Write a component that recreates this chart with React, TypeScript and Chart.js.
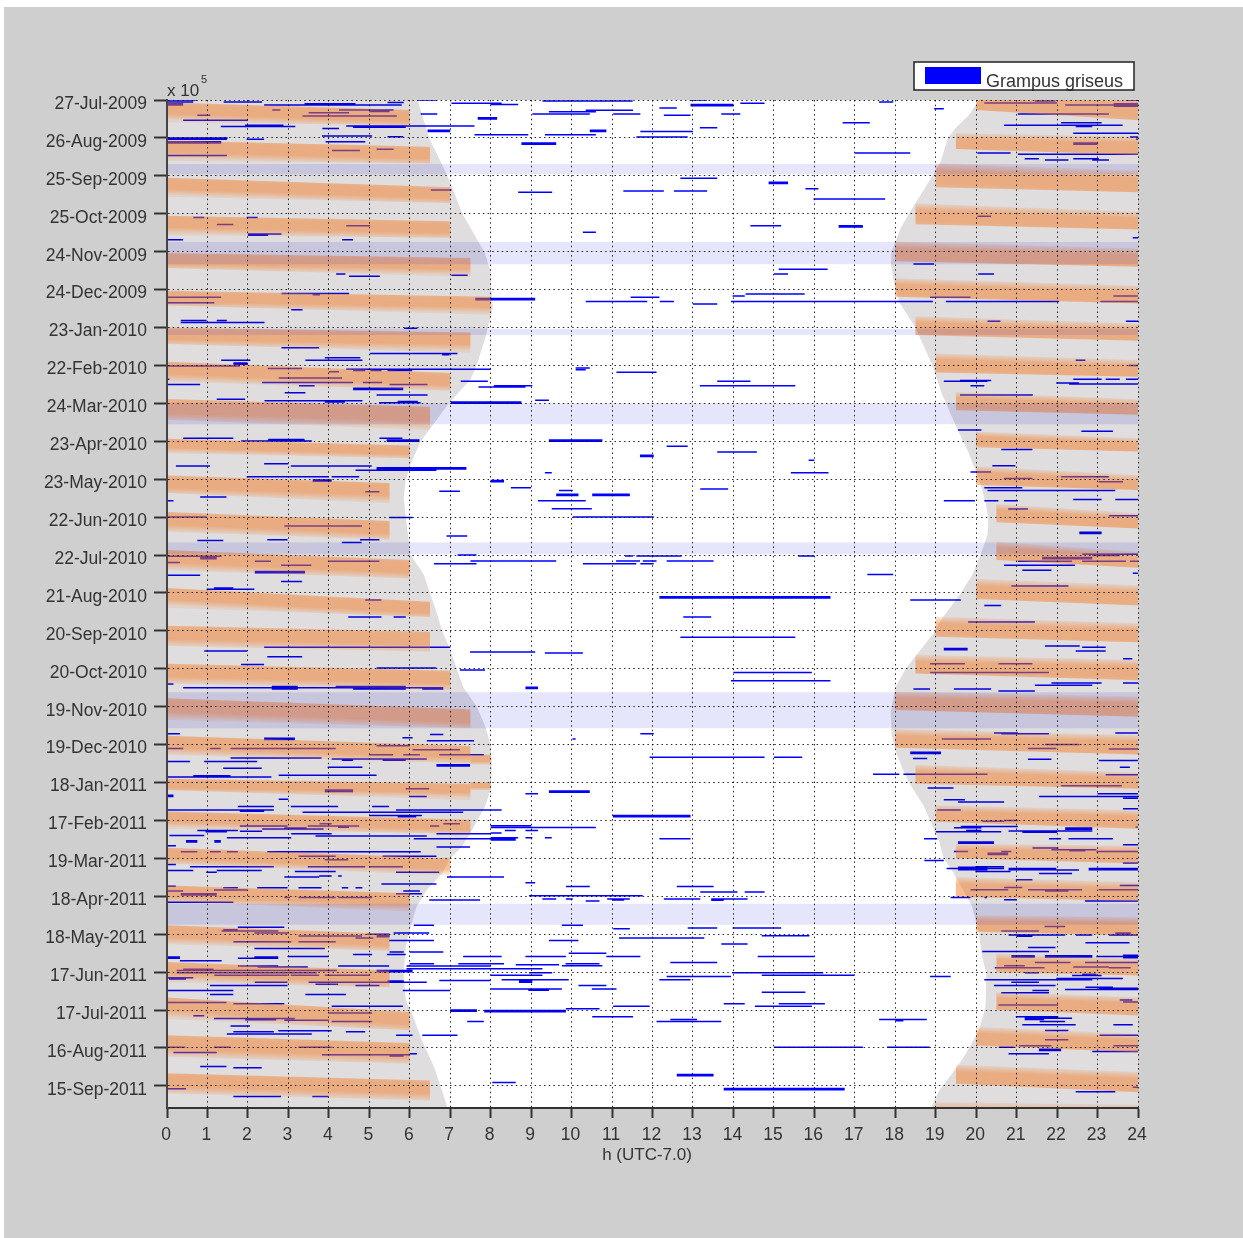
import React, { useEffect, useRef } from "react";
import { Chart, registerables } from "chart.js";

Chart.register(...registerables);

const tickDates = ["27-Jul-2009","26-Aug-2009","25-Sep-2009","25-Oct-2009","24-Nov-2009","24-Dec-2009","23-Jan-2010","22-Feb-2010","24-Mar-2010","23-Apr-2010","23-May-2010","22-Jun-2010","22-Jul-2010","21-Aug-2010","20-Sep-2010","20-Oct-2010","19-Nov-2010","19-Dec-2010","18-Jan-2011","17-Feb-2011","19-Mar-2011","18-Apr-2011","18-May-2011","17-Jun-2011","17-Jul-2011","16-Aug-2011","15-Sep-2011"];

// [day since 27-Jul-2009, dawn hour]
const dawnEdge = [[0,6.19],[30,6.48],[60,6.93],[90,7.3],[120,7.84],[135,8.0],[150,8.02],[165,8.05],[190,7.85],[210,7.65],[221,7.5],[240,6.97],[260,6.5],[270,6.27],[285,6.06],[300,5.9],[315,5.85],[330,5.9],[345,5.96],[360,6.02],[375,6.34],[390,6.5],[405,6.66],[420,6.8],[435,7],[450,7.16],[465,7.33],[480,7.66],[495,7.86],[510,8.0],[525,8.03],[546,8.0],[559,7.86],[580,7.5],[591,7.28],[600,7.0],[612,6.8],[625,6.42],[638,6.17],[660,5.97],[670,5.9],[691,5.85],[712,5.9],[723,6.06],[744,6.3],[765,6.6],[784,6.8],[797.5,6.93]];
const duskEdge = [[0,20.07],[12,19.82],[22,19.5],[30,19.3],[49,19.12],[60,18.92],[75,18.63],[90,18.34],[101,18.14],[120,17.91],[130,17.89],[144,17.97],[160,18.1],[180,18.5],[210,18.92],[233,19.16],[260,19.53],[278,19.8],[300,20.07],[318,20.23],[331,20.3],[344,20.28],[360,20.11],[376,19.9],[392,19.58],[410,19.16],[423,18.92],[436,18.6],[450,18.26],[465,18.0],[484,17.89],[502,17.91],[515,18.01],[529,18.18],[540,18.34],[559,18.71],[586,19.08],[600,19.2],[612,19.45],[638,19.9],[660,20.07],[678,20.15],[691,20.25],[718,20.23],[736,20.07],[757,19.7],[770,19.41],[784,19.08],[797.5,18.88]];

// Unsurveyed periods: [first day, last day]
const gapPeriods = [[50.6,58.8],[112.4,130],[181,186],[240,256.5],[350,359.4],[468.6,497],[636,652.5]];

// Moonlit bands, before dawn: [end hour, top at 0h, bottom at 0h, top at end, bottom at end]
const morningBands = [
[6,2,17.6,8,20],[6.5,32,48,37,50],[7,61.5,76.5,69,81.5],[7,91.5,107,96,109],[7.5,121,133,125,140],[8,151,162.6,155.6,170],[7.5,180,193,184,200],[7,207,222.8,216,230],[6.5,236.5,253,242.6,261],
[6,268,279.5,273.4,283.5],[5.5,297,311,303,319],[5.5,326,341.5,333,348],[6,356,372,364,378.5],[6.5,386,401.7,397,409],[6.5,416,432,420.7,436.5],[7,446,461.6,451.5,467],[7.5,473.4,490.6,482,497],[7.5,503,518,511,525],
[7.5,537,546,541,554],[7.5,563,576.5,569.4,580.5],[7,591.6,604,600,613.5],[6,621.4,634,627.5,642],[5.5,653,668,659.6,673],[5.5,682,698,688.7,702],[6,710,727,721.6,736],[6,740,757,746,762.5],[6.5,770,786,775.7,791.6]];
// Short ends of two bands: [start hour, end hour, top, bottom]
const morningTips = [[7.5,8,518,526],[7.5,8,540,546]];
// Moonlit bands, after dusk: [start hour, top at start, bottom at start, top at 24h, bottom at 24h]
const eveningBands = [
[20,-8,8,-3,16],[19.5,26.4,38.8,29,43.5],[19,50,69,56,73],[18.5,81.8,98.4,88.4,102.4],[18,112,127.5,117.4,132],[18,141,155.7,147,161],[18.5,171,186,176.8,190.5],[19,200.5,215.6,205.8,219],[19.5,231,245.4,236.7,249],
[20,262.4,274.8,267.6,278],[20,290,304.6,296.7,308.5],[20.5,319.6,334,327,339],[20.5,349.4,364,357.4,370],[20,379,394.8,384,400],[19,408.8,424.6,414,429],[18.5,439,453.7,443,459],[18,468,482.7,472,488],[18,497.7,512.5,502.5,517.8],
[18.5,526,541,532,545],[19,558,571,562,576.5],[19.5,588.4,600,590,604],[19.5,614.8,630.6,618.8,633.8],[20,645,658,646.5,661],[20.5,675.5,690,679.4,692.6],[20.5,705.8,719.8,709.8,724.3],[20,733.5,748,738.8,753.3],[19.5,763.3,778.4,769,785],[19,793,815,795,815]];

// Detections: [day, start hour, end hour]
const detectionsA = [
[0,0,.74],[1.6,1.4,2.35],[1.6,0,.65],[3,0,.4],[4,0,.4],[4,2.4,3],[4,3,5.8],[3,3.4,4.66],[2,5.45,5.85],[8,2.6,2.8],[8,4.25,5.6],[9,5,5.5],[10,3.5,4.5],[12,.75,1.07],[12.6,3.35,5.68],[16,.4,2],[21,1.33,3.17],[20,1.93,2.88],[20.5,4.43,7.6],[21.5,4.6,5.9],[22.6,3.84,4.25],[24,6.44,7],[25,6.44,7],[11,6.27,6.68],[0,6.19,6.68],[2.6,7.03,8],[14,7.68,8.16],[15,7.68,8.16],[28.5,3.83,5.07],[29,5.45,5.84],[27.4,7.6,8.93],[30,0,1.5],[31,1.97,2.4],[31,0,1.48],[33,3.92,4.9],[33,0,1.34],[34,0,1.34],[40,4.08,4.77],[39,5.18,5.6],[44,0,1.48],[71.3,6.52,7.03],[93,.65,.92],[93,1.97,2.24],[98.5,1.23,1.64],[99.5,4.43,5.02],[106,2,2.83],[107,2,2.5],[110.5,0,.4],[110.5,4.33,4.6],[137.6,4.18,4.41],[139.5,4.5,5.26],[138.7,7.03,7.43],[153,2.83,4.5],[154,3.6,3.78],[156,0,1.34],[160.5,0,1.17],[157,7.62,9.1],[158,7.62,9.1],[166,3.07,3.35],[174.5,.34,.98],[174.5,1.23,1.48],[176,.34,2.41],[180.5,5.86,6.19],[196,2.83,3.76],[200.5,5.02,7.18],[201.5,6.8,6.98],[204,3.9,4.78],[206,3.42,4.83],[206,1.34,2.06],[208,1.64,1.99],[209,1.64,1.99],[210.5,0,1.8],[212.5,2.49,3.34],[213,4.43,8],[214,4.6,4.9],[214,5.03,5.3],[214,5.45,6.06],[215,4,4.25],[220,2.76,4.33],[221,0,.06],[222.6,7.26,7.93],[223.5,4.84,5.32],[223.5,2.35,4.6],[225,0,.82],[225,5.5,6.44],[226,3.26,3.65],[227,7.7,8.86],[228,4.6,5.84],[229,4.6,5.84],[231.6,2.91,3.42],[233.4,5.18,6.44],[236.8,1.23,1.93],[238,2.41,4.83],[239,3.9,4.4],[239.5,5.24,6.27],[238.5,5.7,6.2],[239,7.02,8.76],[240,7.02,8.76]];
const detectionsB = [
[.8,9.28,11.51],[0,12.94,13.35],[3.5,8,8.68],[2.6,8,8.27],[2.6,14.17,14.77],[3.5,12.94,14],[4.5,12.94,14],[6.3,12.17,12.6],[8.2,10.35,11.52],[9.2,10.35,10.6],[9.2,9.44,10.35],[11,9.03,10.45],[11,11.03,11.7],[12,12.28,12.94],[11,13.7,14.17],[22,13.17,13.6],[24,10.45,10.86],[25,10.45,10.86],[25,11.7,13],[27.4,9.34,10.6],[29.3,11.6,12.87],[34,8.76,9.62],[35,8.76,9.62],[62,12.69,13.6],[65,14.87,15.35],[66,14.87,15.35],[70.3,15.78,16.1],[73,8.68,9.52],[72,11.28,12.28],[72,12.53,13.35],[78.4,15.98,17.75],[99.5,14.42,15.18],[104.7,10.28,10.6],[134,15.12,16.33],[137.6,15,15.35],[155,13.98,14.28],[156,11.46,12.17],[153.4,14.3,15.76],[159.5,10.35,11.87],[159.5,12.18,12.53],[159.5,13.94,18.93],[159.5,19.25,22.05],[161.4,13,13.6],[212,10.1,10.45],[213.5,10.1,10.35],[215.3,11.11,12.1],[222.6,13.6,14.42],[226,13.17,15.53],[226,8.08,9.03],[237.6,9.1,9.44],[1.6,17.6,17.95],[7,18.96,19.2],[18,16.7,17.37],[42,17,18.37],[42,20.03,20.85],[2.4,20.2,22],[.8,21.45,21.96],[0,23.7,24],[4,22.2,24],[3,23.4,24],[5,23.4,24],[11,21.03,23.28],[18,22.1,23.1],[20,20.69,23.62],[21,22.46,22.87],[26.3,22.4,24],[29.3,23.8,24],[31,23.95,24],[34,22.4,23],[35,22.4,23],[43,21.03,24],[46.4,21.2,21.55],[46.4,22.4,23.03],[47.4,21.7,22.28],[47.4,22.87,23.28],[92,20.03,20.37],[99.5,16.6,17.2],[100.5,16.6,17.2],[109,23.87,24],[129.7,18.45,18.96],[137.6,20.05,20.44],[155,23.39,24],[156,18.86,19.86],[159.5,23.07,24],[175,20.28,20.6],[175,23.7,24],[206,22.46,22.7],[210,23.77,24],[221,22.4,23.1],[221,23.2,23.55],[221,23.7,24],[222,19.6,20.37],[222.6,19.2,20.28],[226,19.86,20.2],[224,21.98,22.54],[224.6,22.3,24],[233.4,19.6,21.4],[261,19.55,20.13],[262,22.6,23.38]];
const detectionsC = [
[267.6,.4,1.64],[269.7,1.83,3.58],[268.7,2.5,3.4],[267.6,5.25,5.82],[269,5.43,6.24],[270,5.43,6.24],[289.5,.22,1.06],[287.7,2.4,3],[289.5,3.06,5.06],[293,4.66,6.66],[291,5.18,7.4],[292,5.18,7.4],[298,1.97,3.99],[298,4.07,4.75],[300.6,3.6,4.07],[301.6,3.6,4.07],[310,4.9,5.25],[314,.82,1.47],[317,0,.16],[309.6,6.73,7.24],[330.4,5.49,6.07],[330,0,.98],[337,2.9,4.82],[345,6.91,7.42],[348.6,.75,1.39],[348,2.48,2.98],[350,4.32,4.81],[348,4.77,5.25],[361,0,1.35],[362,.82,1.23],[363,.82,1.23],[366,0,.32],[365,2.17,2.57],[365,4,5.25],[368,2.82,3.57],[360,7.18,7.65],[364.7,7.5,9.62],[367,6.6,7.65],[373,2.17,3.41],[374,2.17,3.41],[376,0,.82],[381,2.82,3.34],[387,.98,2.16],[386,1.16,1.64],[395.5,4.9,5.3],[409,4.48,5.3],[409,5.6,5.9],[433,2.4,7],[436,.92,1.98],[436.7,7.49,9.1],[440.4,2.48,3.34],[446.7,1.83,2.4],[449.3,5.18,6.66],[451,7.24,7.86],[462,0,.16],[465,.4,6.83],[466,2.59,3.23],[464,4.17,5.9],[466,4.6,5.9],[464,2.59,3.23],[466,6.31,6.83],[501.5,0,.32],[502,6.5,6.83],[504.5,5.82,6.07],[505,2.4,3.16],[506,2.4,3.16],[507,6.42,7.59],[510.8,5.18,6],[513,2.4,4.17],[513,0,.4],[513,1.06,1.33],[513,1.57,2.64],[514,6.07,7.24],[518,5,5.59],[518,5.84,6.25],[518,6.73,7.83],[520.5,1.57,3.82],[521.3,4.07,6.42],[522.3,4.32,4.6],[522.3,5.33,5.9],[523.4,0,.57],[523.4,.92,2.23],[526,6.66,7.49],[527,6.66,7.49],[528.7,1.39,2.34],[528,3.97,4.83],
[269,9.44,10.76],[270,9.44,10.76],[274,12.35,12.87],[278.4,13.6,14.58],[281,11.69,12.03],[282,11.69,12.03],[285,15.86,16],[295,9.34,9.51],[295,15.42,16.35],[301,8,8.33],[302,8,8.33],[306.7,8.5,9],[309,9.69,10.03],[312,9.62,10.17],[313,9.62,10.17],[312,10.51,11.44],[313,10.51,11.44],[307.7,13.18,13.87],[317,9.17,10.35],[323.3,9.51,10.5],[330,10.03,12.03],[360.7,11.32,11.52],[360.7,11.6,12.72],[360.7,15.6,16],[364.7,11.1,11.69],[364.7,11.76,12.1],[364.7,12.35,13.51],[367,10.28,11.6],[367,11.7,12.03],[393,12.17,16.4],[394,12.17,16.4],[409,12.76,13.45],[425,12.69,15.53],[437.5,9.34,10.28],[453,14,15.94],[459.4,13.94,16.4],[464.6,8.86,9.17],[465.6,8.86,9.17],[501.5,11.7,12.03],[505.5,10.02,10.1],[520,11.93,14.77],[520,15,15.7]];
const detectionsD = [
[276.6,20.62,21.39],[289.3,20.4,20.97],[294.3,19.86,20.37],[298,22.1,23.28],[299.5,20.69,21.39],[302,23.03,23.63],[306.7,20.2,21.14],[309,20.28,23.44],[316,22.4,23.1],[316,23.44,24],[317,19.2,19.97],[317,20.2,20.55],[317,20.69,21.03],[323.5,20.79,21.28],[329,23.28,24],[342,22.55,23.1],[343,22.55,23.1],[359.4,22.62,24],[360.4,22.87,23.55],[362,21.63,22.87],[363,21.63,22.87],[365,21.03,22.37],[365,22.62,23.7],[365,23.8,24],[368,20.69,22.44],[372,21.14,21.86],[374.5,23.87,24],[375.5,17.31,17.95],[384.5,20.87,22.28],[395.5,18.37,19.62],[400,20.2,20.62],[413,19.8,21.45],[432,21.7,22.56],[433,22.62,23.2],[434,19.2,19.79],[435,19.2,19.79],[436,22.46,23.2],[442,23.63,23.86],[446,18.86,19.72],[446,20.55,21.39],[453,18.86,21.8],[461.2,21.86,23.1],[461.2,23.63,24],[463,21.45,22.87],[466,18.45,18.86],[466,19.45,20.37],[467.5,20.55,21.45],[500.8,20.44,21.03],[500.8,23.44,24],[501.5,20.62,21.8],[505.5,19.15,20.37],[510,21.7,22.55],[513,21.28,21.98],[513.4,23.28,24],[516,18.37,19.13],[517,18.37,19.13],[521,18.44,18.79],[521.6,21.28,21.86],[522.6,23.03,24],[528,23.55,23.8]];
const detectionsE = [
[535.6,0,2.58],[534.6,.65,1.57],[534.3,2.76,5.18],[545,5.9,6.48],[546,3.9,4.6],[547,3.9,4.6],[550,0,.16],[551,0,.16],[551,6,6.42],[553.3,2.76,3],[559,1.75,2.64],[559,3.06,4.23],[559,5.07,5.49],[561.8,0,2.64],[561.8,5.66,8.27],[562.8,1.8,2.4],[563.6,3.35,7.32],[566,5,6.3],[567,5.7,6.16],[572.6,6.83,7.24],[572.6,3.77,4.07],[574.4,1.8,2.98],[574.4,3.48,4.75],[575.4,4.23,4.5],[574.4,6.5,6.73],[576,2.9,3.45],[576.8,2.35,3.87],[578,.75,1.75],[579,.95,1.48],[578.6,1.8,2.35],[580.5,3.07,4.07],[580.5,6.66,8],[582.3,3.67,6.42],[582,.06,.92],[583.7,1.48,3.07],[584.5,6.1,8],[586,.47,.75],[587,.47,.75],[586,1.17,1.33],[587,1.17,1.33],[590,0,.22],[591,6.66,7.49],[594.7,.34,.75],[594.7,1.06,1.33],[594.7,1.48,1.75],[594.7,2.48,6.27],[598.4,3.25,4.17],[598.4,5.33,6.66],[601,3.9,4.48],[604.8,0,.22],[606.6,.57,2.64],[606.6,3.48,4.9],[606.6,5,5.83],[609.5,0,.65],[609.5,1.23,2.34],[610.3,3.16,4.17],[611,.97,1.23],[611,5.66,6.73],[614,3.76,4.07],[614,4.23,4.32],[614.8,2.9,3.76],[614.8,6.92,8.33],[620.3,5.3,6.66],[622,0,.22],[623.2,1.39,1.75],[623.2,2.23,2.98],[623.2,3.25,3.82],[623.2,4.32,4.48],[623.2,4.66,4.83],[625,1.16,1.98],[625.9,0,.4],[625.9,5.84,6.25],[628,.34,1.23],[629,.34,1.23],[628,5.66,6.3],[631,2.9,3.04],[631,3.25,4.17],[631,4.23,5.07],[633,6.48,7.74],[634.8,0,1.64],[653,6.1,6.6],[654.4,1.75,2.9],[657.5,1.35,2.75],[656.5,1.39,1.75],[659,2.16,3],[659,5.6,6.48],[661.5,3.25,4.82],[661,5.18,5.5],[662,5.18,5.5],[660,4.95,5.5],[663,4.66,5.1],[665,5.49,6.6],[666,1.64,3.07],[666,3.25,4.17],[671.3,2.16,3.9],[674,6,6.83],[674,5.5,5.85],[676,4.6,5.07],[676,5.44,5.9],[677.6,2.98,4],[677.6,7.32,8.27],[679,0,.32],[678,0,.32],[679,1.75,2.75],[678,2.16,2.75],[681,.32,1.35],[683.4,6,6.6],[683.4,7.2,8.33],[685.2,1.75,2.75],[685.2,4.23,5.49],[685.2,5.92,8],[686,2.24,3.48],[688.7,.24,4.2],[687.7,.4,1.15],[688.7,5.18,6.07],[689.7,5.18,6.07],[690.5,.24,3.7],[687.4,5.92,9.28],[692.4,1.17,2.98],[692.4,3.06,3.76],[692.4,3.9,5],[694.5,0,.65],[695.5,.05,.47],[698,2.17,2.98],[698,3.5,4.23],[698,4.23,6.42],[697,5.45,5.85],[700.5,1.06,2.98],[700.5,4.66,5.25],[699.5,3.67,4.23],[696.6,6.73,8],[704.5,0,1.64],[704.5,5.83,7],[707.7,1.06,1.64],[707.7,3.42,4.42],[714,0,1.47],[715,1.64,2.9],[717,4.07,5.83],[720,7,7.66],[721,7,7.66],[720.3,7.84,9.86],[721.3,7.84,9.86],[722.4,4,5.07],[724.6,.65,.92],[726.7,1.16,3.16],[727.7,1.93,2.7],[728,2.9,4],[729,4.07,5.07],[729,7.42,7.83],[732.7,1.57,2.05],[736.4,2.75,4.07],[737.2,1.64,2.64],[737.2,4.42,4.9],[739,1.48,3.58],[740,5.66,6.07],[740,6.31,7.18],[749.4,0,.45],[749.4,1.16,1.57],[749.4,3.25,4.07],[753.6,.16,1.23],[754.6,6,6.18],[755.4,3.83,6],[756.4,5.5,5.85],[764.7,.82,1.47],[765.7,1.64,2.34],[782.3,0,.47],[788.4,1.64,2.82],[788.4,3.59,3.99]];
const detectionsF = [
[546.7,9.44,10.45],[547.7,9.44,10.45],[548.8,8.86,9.17],[566,11.02,12.94],[567,11.02,12.94],[574.2,8,9],[575.5,8,10.6],[578,8.35,8.62],[578,8.86,9.17],[580,8,8.27],[583.7,8,8.68],[583.7,8.86,9.03],[583.7,9.34,9.51],[584.5,8,8.62],[585.5,8,8.62],[584.5,12.17,12.94],[614.8,8,8.33],[619.3,8.86,9.1],[622.2,9.86,10.45],[622.2,12.6,13.51],[626.7,13.18,14.1],[626.7,14.28,14.77],[629.6,8.95,11.76],[632.2,9.28,9.62],[632.2,9.86,10.03],[632.2,10.88,11.44],[633,11,11.3],[632.2,12.28,13.18],[632.2,13.45,14.35],[633.2,13.45,13.76],[633.8,10.35,10.69],[653,9.76,10.28],[655,12.87,13.6],[655,13.98,15.18],[655.7,11.03,11.44],[661.2,14.7,15.88],[663,11.17,13.28],[665,9.44,10.17],[667.8,13.7,14.35],[675,9.93,10.86],[677.6,8.86,9.86],[677.6,10.86,11.7],[677.6,14.6,16],[682.3,12.44,13.6],[683.4,9.85,10.69],[684.2,8.62,9.69],[685,9.76,10.76],[690.5,8.95,9.52],[690.5,13.97,16.22],[692.4,8,9.28],[692.4,14.7,16.98],[693.4,12.35,13.94],[696,8.27,9.93],[696,12.17,12.94],[697,8.7,9.03],[698,8.7,9.03],[700.5,10.17,10.86],[703.4,8,9.76],[704.4,8.93,9.44],[703.4,10.5,11.11],[706,14.7,15.78],[715,13.76,14.28],[715,15.12,16.26],[717,11.03,11.93],[717,14.53,15.94],[719,9.86,10.69],[725.3,10.51,11.52],[727.5,12.44,13.1],[729,12.1,13.7],[749.4,15,17.2],[749.4,17.8,18.85],[771,12.6,13.51],[772,12.6,13.51],[777.3,8.04,8.62],[782,13.76,16.75],[783,13.76,16.75]];
const detectionsG = [
[533.5,17.45,18.1],[533.5,18.2,20.28],[533.8,23.2,24],[542.5,22.1,23.6],[544.3,18.8,19.44],[551,21.55,24],[548.8,23,24],[552.5,23.63,24],[553.6,19.2,19.72],[555.4,19.55,20.69],[560.7,23.63,24],[561.8,19.04,19.62],[570,20.69,21.03],[570.7,20.15,20.69],[574.7,19.62,21.03],[575.7,19.45,20.13],[575.2,23.94,24],[576,22.2,22.87],[577,22.2,22.87],[578.4,20.8,22.87],[579.4,21.14,22],[579,19,20.62],[578,19.75,20.13],[584.5,18.71,19.04],[584.5,21.8,22.1],[584.5,22.28,23.38],[587,19.55,20.44],[588,19.55,20.44],[589.2,23.63,24],[591.8,21.39,22.03],[593.2,21.86,22.97],[594,22.3,22.7],[594.5,19.45,19.8],[594.5,20.62,20.87],[594.5,22.97,24],[596,20.28,20.79],[597,20.28,20.79],[601.6,18.72,19.2],[603.7,23.63,24],[606.6,19.98,20.69],[608,19.27,20.69],[609,19.55,20.28],[607,19.55,20.28],[608,20.8,21.98],[609,20.8,21.98],[608,22.78,24],[609,22.78,24],[609.3,21.98,22.54],[610.3,19.98,20.85],[611.9,21.55,22.37],[617,20.98,21.39],[621.4,23.55,24],[623,20.69,21.14],[624.8,19.86,20.79],[624.8,21.28,22.62],[625.8,21.7,22.28],[624.8,23.03,24],[631,19.37,19.86],[631,20.2,20.27],[632.7,20.69,21],[633.8,22.69,24],[654,21.69,22.2],[657.5,20.62,21.55],[659,23.44,23.82],[660,23.44,23.82],[660.7,20.8,22.2],[661.7,21,21.39],[660.7,22.46,22.87],[660.7,23.28,24],[666.8,22.7,23.79],[670.5,21.28,21.96],[673.6,20.15,21.8],[677.6,22.97,24],[678.6,23.63,24],[676.6,23.63,24],[677,20.87,21.45],[678,20.87,21.45],[677,21.7,22.87],[678,21.7,22.87],[682.3,21.45,22.33],[682.3,22.69,24],[685,20.69,21.2],[686,22.4,23.28],[686.6,20.46,21.69],[686.6,23.28,23.82],[690.5,21.2,21.55],[693.4,18.86,19.37],[692.6,22.37,23.1],[691.6,22.62,22.97],[695,21.98,23.63],[696,20.2,22.87],[698,20.87,21.55],[700.5,20.44,21.96],[701.9,22.7,23.38],[703.7,22.2,24],[702.7,23.03,24],[704.5,21.39,21.8],[706.4,20.62,21.8],[712,23.55,23.86],[713.6,23.63,24],[716,20.55,22.03],[725.3,20.98,22.03],[726.5,21.2,22.37],[727.5,21.2,21.68],[727.5,17.6,18.78],[728.5,18,18.2],[729,21.57,22.2],[731.7,21.14,22.46],[731.7,23.39,23.87],[736.2,21.7,22.28],[740,23.05,24],[743.6,21.7,22.28],[748.3,23.39,24],[748.3,21.06,21.86],[749.4,20.56,20.95],[751,21.55,22.1],[752,21.55,22.1],[752.8,22.87,24],[754.6,20.8,21.8],[781,23.87,24],[784.7,22.46,23.44]];

const legendName = "Grampus griseus";
const xTitle = "h (UTC-7.0)";

const detections = [...detectionsA, ...detectionsB, ...detectionsC, ...detectionsD, ...detectionsE, ...detectionsF, ...detectionsG];
const FONT = '"Liberation Sans", Arial, sans-serif';
const INK = "#333333";

function polygon(points: number[][]) {
  return points.map(([x, y]) => ({ x, y }));
}

// A gradient across a sloping band, perpendicular to its long edge
function bandGradient(corners: number[][], fadeBelow: boolean) {
  return (context: any) => {
    const chart = context.chart;
    const { x, y } = chart.scales;
    if (!x || !y || !chart.chartArea) return "rgba(244,124,38,0.5)";
    const p = corners.map(([h, d]) => [x.getPixelForValue(h), y.getPixelForValue(d)]);
    const ux = p[1][0] - p[0][0], uy = p[1][1] - p[0][1];
    const len = Math.hypot(ux, uy) || 1;
    const nx = -uy / len, ny = ux / len;
    const mid0 = [(p[0][0] + p[1][0]) / 2, (p[0][1] + p[1][1]) / 2];
    const mid1 = [(p[2][0] + p[3][0]) / 2, (p[2][1] + p[3][1]) / 2];
    const span = (mid1[0] - mid0[0]) * nx + (mid1[1] - mid0[1]) * ny;
    const g = chart.ctx.createLinearGradient(mid0[0], mid0[1], mid0[0] + nx * span, mid0[1] + ny * span);
    const c = (a: number) => `rgba(244,124,38,${a})`;
    if (fadeBelow) {
      g.addColorStop(0, c(0.44)); g.addColorStop(0.15, c(0.5)); g.addColorStop(0.65, c(0.5)); g.addColorStop(1, c(0.13));
    } else {
      g.addColorStop(0, c(0.13)); g.addColorStop(0.34, c(0.5)); g.addColorStop(0.88, c(0.5)); g.addColorStop(1, c(0.45));
    }
    return g;
  };
}

function shape(data: any[], backgroundColor: any, order: number) {
  return { type: "scatter", data, showLine: true, fill: "shape", backgroundColor, borderWidth: 0, borderColor: "transparent", pointRadius: 0, pointHoverRadius: 0, tension: 0, order };
}

const decorations = {
  id: "decorations",
  beforeDraw(chart: any) {
    const { ctx, chartArea: a } = chart;
    ctx.save();
    ctx.fillStyle = "#ffffff";
    ctx.fillRect(a.left, a.top, a.right - a.left, a.bottom - a.top);
    ctx.restore();
  },
  afterDraw(chart: any) {
    const { ctx, chartArea: a } = chart;
    ctx.save();
    ctx.fillStyle = INK;
    ctx.textBaseline = "middle";
    ctx.textAlign = "left";
    ctx.font = `17px ${FONT}`;
    ctx.fillText("x 10", a.left, a.top - 9);
    ctx.font = `11px ${FONT}`;
    ctx.fillText("5", a.left + 34, a.top - 20);
    // axis title
    ctx.textAlign = "center";
    ctx.font = `17px ${FONT}`;
    ctx.fillText(xTitle, 647, 1155);
    ctx.textAlign = "left";
    // legend
    const lx = a.right - 224, ly = a.top - 38;
    ctx.fillStyle = "#ffffff";
    ctx.fillRect(lx, ly, 220, 28);
    ctx.fillStyle = "#0000ff";
    ctx.fillRect(lx + 11, ly + 5, 56, 17);
    ctx.fillStyle = INK;
    ctx.font = `18px ${FONT}`;
    ctx.textBaseline = "alphabetic";
    ctx.fillText(legendName, lx + 72, ly + 25);
    ctx.strokeStyle = "#222222";
    ctx.lineWidth = 1.5;
    ctx.strokeRect(lx, ly, 220, 28);
    ctx.restore();
  },
};

export default function App() {
  const ref = useRef<HTMLCanvasElement>(null);
  useEffect(() => {
    const blue: any[] = [];
    for (const [d, a, b] of detections) {
      blue.push({ x: a, y: d }, { x: b, y: d }, { x: null, y: null });
    }
    const datasets: any[] = [];
    morningBands.forEach(([e, t0, b0, t1, b1]) => {
      const c = [[0, t0], [e, t1], [e, b1], [0, b0]];
      datasets.push(shape(polygon(c), bandGradient(c, true), 10));
    });
    morningTips.forEach(([s, e, t, b]) => {
      const c = [[s, t], [e, t], [e, b], [s, b]];
      datasets.push(shape(polygon(c), bandGradient(c, true), 10));
    });
    eveningBands.forEach(([s, t0, b0, t1, b1]) => {
      const c = [[s, t0], [24, t1], [24, b1], [s, b0]];
      datasets.push(shape(polygon(c), bandGradient(c, false), 10));
    });
    const swap = (edge: number[][]) => edge.map(([d, h]) => [h, d]);
    datasets.push(shape(polygon([[0, 0], ...swap(dawnEdge), [0, 797.5]]), "rgba(20,5,15,0.137)", 20));
    datasets.push(shape(polygon([[24, 0], ...swap(duskEdge), [24, 797.5]]), "rgba(20,5,15,0.137)", 20));
    gapPeriods.forEach(([a, b]) => {
      datasets.push(shape(polygon([[0, a], [24, a], [24, b], [0, b]]), "rgba(0,0,215,0.1)", 5));
    });
    datasets.push({
      type: "scatter", label: legendName, data: blue, showLine: true, spanGaps: false,
      borderColor: "#0000ff", backgroundColor: "#0000ff", borderWidth: 1.5, pointRadius: 0, pointHoverRadius: 0, tension: 0, order: 40, borderCapStyle: "butt",
    });
    const chart = new Chart(ref.current as HTMLCanvasElement, {
      type: "scatter",
      data: { datasets },
      plugins: [decorations],
      options: {
        responsive: false,
        animation: false,
        devicePixelRatio: 1,
        events: [],
        layout: { padding: { left: 0, top: 100, right: 105, bottom: 73 } },
        plugins: { legend: { display: false }, tooltip: { enabled: false } },
        scales: {
          x: {
            type: "linear", min: 0, max: 24, position: "bottom",
            afterFit: (s: any) => { s.height = 57; },
            ticks: { stepSize: 1, autoSkip: false, maxRotation: 0, color: INK, font: { family: FONT, size: 17.5 }, padding: 7, labelOffset: -1 },
            grid: { color: "rgba(0,0,0,0.85)", lineWidth: 1, z: 1, tickLength: 10, tickColor: "#333333", tickWidth: 2, tickBorderDash: [] },
            border: { display: true, color: "#333333", width: 2, dash: [1.5, 3.2], z: 2 },
          },
          y: {
            type: "linear", min: 0, max: 797.5, reverse: true, position: "left",
            afterFit: (s: any) => { s.width = 167; },
            ticks: {
              stepSize: 30, autoSkip: false, includeBounds: false, color: INK, font: { family: FONT, size: 17.5 }, padding: 7, labelOffset: 4,
              callback: (v: any) => tickDates[Math.round(v / 30)],
            },
            grid: { color: "rgba(0,0,0,0.85)", lineWidth: 1, z: 1, tickLength: 13, tickColor: "#333333", tickWidth: 2, tickBorderDash: [] },
            border: { display: true, color: "#444444", width: 2, dash: [1.5, 3.2], z: 2 },
          },
        },
      } as any,
    } as any);
    return () => chart.destroy();
  }, []);
  return (
    <div style={{ position: "absolute", left: 0, top: 0, width: 1243, height: 1238, overflow: "hidden", background: "#ffffff" }}>
      <div style={{ position: "absolute", left: 4, top: 7, width: 1239, height: 1231, background: "#cfcfcf" }} />
      <canvas ref={ref} width={1243} height={1238} style={{ position: "absolute", left: 0, top: 0, display: "block", filter: "blur(0.35px)" }} />
    </div>
  );
}
